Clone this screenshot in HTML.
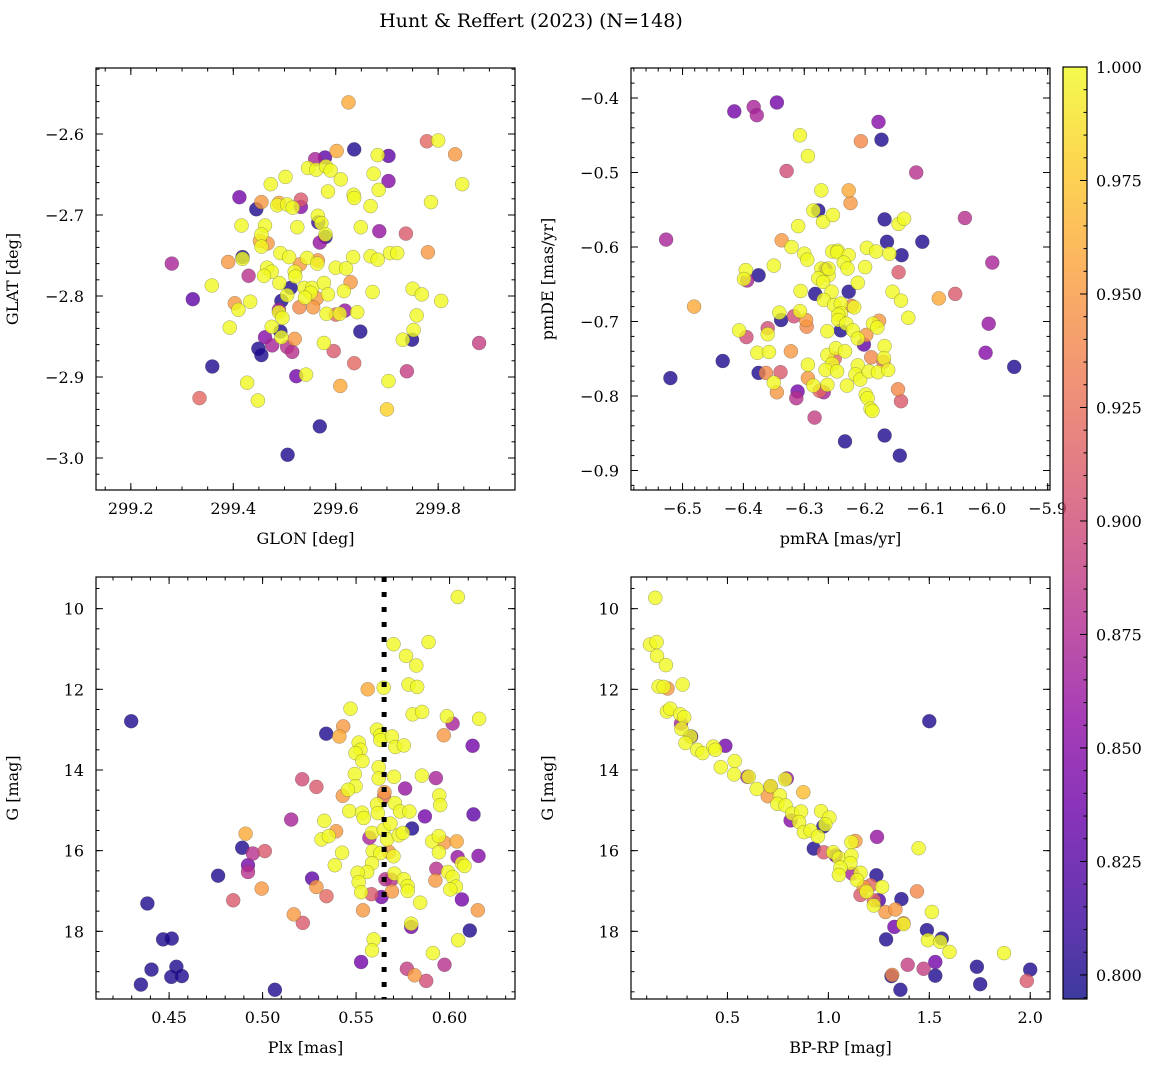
<!DOCTYPE html>
<html><head><meta charset="utf-8">
<style>
html,body{margin:0;padding:0;background:#fff;}
svg{display:block;font-family:"DejaVu Serif","Liberation Serif",serif;}
</style></head>
<body>
<svg id="fig" width="1161" height="1067" viewBox="0 0 1161 1067" xmlns="http://www.w3.org/2000/svg">
<text x="531" y="27" font-size="19" text-anchor="middle">Hunt &amp; Reffert (2023) (N=148)</text>
</svg>
<script>
// ---- data: [x, y, membership probability] ----
const skyPoints = [
[299.625,-2.561,0.96],[299.778,-2.609,0.92],[299.80,-2.608,1],[299.833,-2.625,0.95],[299.636,-2.619,0.80],[299.602,-2.621,0.96],[299.682,-2.626,1],[299.703,-2.627,0.83],[299.56,-2.631,0.87],[299.579,-2.629,0.83],
[299.546,-2.642,1],[299.562,-2.644,1],[299.581,-2.64,1],[299.59,-2.645,1],[299.502,-2.653,1],[299.473,-2.662,1],[299.61,-2.656,1],[299.674,-2.649,1],[299.703,-2.658,0.85],[299.684,-2.669,1],
[299.847,-2.662,1],[299.585,-2.671,1],[299.635,-2.675,1],[299.636,-2.679,1],[299.786,-2.684,1],[299.412,-2.678,0.84],[299.455,-2.684,0.95],[299.445,-2.693,0.80],[299.489,-2.685,0.96],[299.486,-2.688,1],
[299.505,-2.687,1],[299.532,-2.681,0.91],[299.532,-2.690,0.85],[299.516,-2.691,1],[299.668,-2.689,1],[299.416,-2.713,1],[299.462,-2.713,1],[299.525,-2.715,1],[299.565,-2.701,1],[299.566,-2.709,0.81],
[299.572,-2.710,1],[299.569,-2.734,0.86],[299.58,-2.727,0.80],[299.58,-2.724,1],[299.452,-2.732,0.96],[299.467,-2.735,0.95],[299.455,-2.724,1],[299.455,-2.739,1],[299.649,-2.715,1],[299.685,-2.72,0.86],
[299.737,-2.723,0.91],[299.78,-2.746,0.95],[299.492,-2.747,1],[299.509,-2.752,1],[299.544,-2.753,1],[299.565,-2.756,0.95],[299.564,-2.760,1],[299.634,-2.752,1],[299.668,-2.751,1],[299.682,-2.755,1],
[299.706,-2.747,1],[299.72,-2.747,1],[299.28,-2.76,0.87],[299.39,-2.758,0.95],[299.418,-2.752,0.80],[299.418,-2.754,1],[299.43,-2.775,0.88],[299.466,-2.765,1],[299.475,-2.770,1],[299.46,-2.775,1],
[299.53,-2.761,0.95],[299.52,-2.77,1],[299.521,-2.776,1],[299.60,-2.765,1],[299.62,-2.766,1],[299.629,-2.783,0.95],[299.49,-2.784,1],[299.512,-2.79,0.80],[299.505,-2.799,1],[299.539,-2.79,1],
[299.554,-2.79,1],[299.551,-2.796,1],[299.54,-2.802,1],[299.563,-2.803,0.95],[299.577,-2.784,1],[299.585,-2.798,1],[299.616,-2.794,1],[299.672,-2.795,1],[299.75,-2.791,1],[299.768,-2.798,1],
[299.806,-2.806,1],[299.358,-2.787,1],[299.321,-2.804,0.83],[299.403,-2.809,0.95],[299.41,-2.817,1],[299.433,-2.807,1],[299.494,-2.806,0.80],[299.489,-2.817,0.87],[299.489,-2.820,1],[299.496,-2.827,1],
[299.529,-2.814,0.94],[299.556,-2.814,0.95],[299.582,-2.822,1],[299.600,-2.823,0.92],[299.608,-2.822,1],[299.618,-2.818,0.86],[299.642,-2.82,1],[299.758,-2.824,1],[299.393,-2.839,1],[299.475,-2.838,1],
[299.492,-2.844,0.80],[299.494,-2.851,1],[299.462,-2.851,0.85],[299.476,-2.861,0.87],[299.505,-2.863,0.88],[299.515,-2.869,0.88],[299.52,-2.853,0.95],[299.449,-2.865,0.80],[299.455,-2.873,0.80],[299.577,-2.858,1],
[299.648,-2.844,0.80],[299.596,-2.868,0.91],[299.636,-2.883,0.92],[299.752,-2.842,1],[299.749,-2.854,0.80],[299.731,-2.854,1],[299.88,-2.858,0.89],[299.359,-2.887,0.80],[299.523,-2.899,0.84],[299.542,-2.897,1],
[299.739,-2.893,0.89],[299.703,-2.905,1],[299.609,-2.911,0.96],[299.427,-2.907,1],[299.334,-2.926,0.92],[299.448,-2.929,1],[299.70,-2.94,0.98],[299.569,-2.961,0.80],[299.506,-2.996,0.80]
];
const pmPoints = [
[-6.415,-0.418,0.84],[-6.383,-0.412,0.87],[-6.378,-0.423,0.87],[-6.345,-0.406,0.84],[-6.178,-0.432,0.85],[-6.173,-0.456,0.80],[-6.207,-0.458,0.94],[-6.307,-0.450,1],[-6.294,-0.478,1],[-6.329,-0.498,0.90],
[-6.116,-0.5,0.88],[-6.527,-0.59,0.87],[-6.272,-0.524,1],[-6.227,-0.524,0.96],[-6.224,-0.541,0.95],[-6.277,-0.551,0.80],[-6.285,-0.551,1],[-6.269,-0.566,1],[-6.253,-0.557,1],[-6.31,-0.572,1],
[-6.168,-0.563,0.80],[-6.145,-0.569,1],[-6.136,-0.562,1],[-6.164,-0.593,0.80],[-6.106,-0.593,0.80],[-6.036,-0.561,0.88],[-6.337,-0.591,0.95],[-6.321,-0.6,1],[-6.3,-0.609,1],[-6.295,-0.617,1],
[-6.254,-0.606,1],[-6.245,-0.605,1],[-6.246,-0.607,1],[-6.227,-0.611,1],[-6.235,-0.621,1],[-6.229,-0.629,1],[-6.197,-0.601,1],[-6.182,-0.606,1],[-6.16,-0.609,1],[-6.14,-0.611,0.80],
[-5.991,-0.621,0.87],[-6.35,-0.625,1],[-6.396,-0.631,1],[-6.394,-0.645,0.87],[-6.399,-0.643,1],[-6.375,-0.638,0.80],[-6.272,-0.629,1],[-6.265,-0.630,0.82],[-6.26,-0.638,1],[-6.26,-0.629,1],
[-6.277,-0.642,1],[-6.269,-0.647,1],[-6.2,-0.627,1],[-6.212,-0.648,1],[-6.145,-0.634,0.91],[-6.306,-0.659,1],[-6.282,-0.663,0.80],[-6.255,-0.660,1],[-6.227,-0.66,0.80],[-6.268,-0.671,1],
[-6.251,-0.678,1],[-6.24,-0.676,1],[-6.222,-0.679,0.94],[-6.218,-0.681,1],[-6.155,-0.66,1],[-6.141,-0.672,1],[-6.079,-0.669,0.96],[-6.052,-0.663,0.91],[-6.481,-0.68,0.96],[-6.129,-0.695,1],
[-6.341,-0.688,1],[-6.338,-0.698,0.80],[-6.317,-0.693,0.90],[-6.307,-0.686,1],[-6.297,-0.698,0.95],[-6.296,-0.707,0.94],[-6.240,-0.689,1],[-6.244,-0.691,1],[-6.244,-0.698,1],[-6.231,-0.703,1],
[-6.24,-0.712,0.80],[-6.262,-0.713,1],[-6.22,-0.712,1],[-6.212,-0.723,1],[-6.198,-0.718,0.95],[-6.202,-0.731,0.83],[-6.187,-0.703,1],[-6.177,-0.699,0.95],[-6.18,-0.708,1],[-6.168,-0.733,1],
[-5.997,-0.703,0.86],[-6.002,-0.742,0.85],[-5.955,-0.761,0.80],[-6.52,-0.776,0.80],[-6.434,-0.753,0.80],[-6.407,-0.712,1],[-6.395,-0.721,0.90],[-6.36,-0.709,0.90],[-6.36,-0.717,1],[-6.377,-0.742,1],
[-6.358,-0.741,1],[-6.322,-0.74,0.95],[-6.294,-0.758,1],[-6.262,-0.745,1],[-6.250,-0.750,0.92],[-6.254,-0.757,1],[-6.265,-0.765,1],[-6.246,-0.767,1],[-6.248,-0.736,1],[-6.233,-0.740,1],
[-6.212,-0.759,1],[-6.216,-0.771,1],[-6.208,-0.778,1],[-6.19,-0.748,0.94],[-6.170,-0.754,0.92],[-6.169,-0.749,1],[-6.194,-0.767,1],[-6.179,-0.768,1],[-6.162,-0.765,1],[-6.23,-0.786,1],
[-6.375,-0.769,0.80],[-6.363,-0.769,0.94],[-6.339,-0.768,0.91],[-6.35,-0.782,1],[-6.345,-0.795,0.95],[-6.294,-0.776,0.95],[-6.285,-0.786,1],[-6.275,-0.793,0.92],[-6.268,-0.795,0.87],[-6.262,-0.785,1],
[-6.311,-0.794,0.84],[-6.313,-0.803,0.88],[-6.199,-0.798,1],[-6.196,-0.803,1],[-6.191,-0.817,1],[-6.188,-0.820,1],[-6.146,-0.791,0.94],[-6.141,-0.807,0.91],[-6.283,-0.829,0.89],[-6.233,-0.861,0.80],
[-6.168,-0.853,0.80],[-6.143,-0.88,0.80]
];
const plxPoints = [
[0.6044,9.71,1],[0.570,10.88,1],[0.5888,10.83,1],[0.5767,11.17,1],[0.5822,11.41,1],[0.5562,12.0,0.96],[0.5648,11.96,1],[0.5781,11.88,1],[0.5827,11.94,1],[0.547,12.48,1],
[0.5803,12.62,1],[0.5853,12.56,1],[0.5986,12.67,1],[0.6016,12.85,0.87],[0.6158,12.73,1],[0.4297,12.79,0.80],[0.534,13.1,0.80],[0.5431,12.92,0.95],[0.5411,13.17,0.96],[0.5612,13.0,1],
[0.5630,13.14,1],[0.5630,13.26,1],[0.5692,13.17,1],[0.5710,13.43,1],[0.5755,13.39,1],[0.5969,13.14,0.95],[0.6123,13.4,0.84],[0.5514,13.32,1],[0.5523,13.5,1],[0.5497,13.58,1],
[0.5534,13.78,1],[0.5621,13.93,1],[0.5621,14.21,1],[0.5493,14.1,1],[0.5497,14.40,1],[0.5457,14.49,1],[0.5429,14.64,0.95],[0.5212,14.23,0.90],[0.5288,14.42,0.91],[0.5703,14.17,1],
[0.5852,14.14,1],[0.5927,14.2,0.87],[0.5762,14.46,0.86],[0.5945,14.63,1],[0.5950,14.87,1],[0.5652,14.55,0.95],[0.5650,14.67,0.92],[0.5707,14.82,1],[0.5612,14.85,1],[0.5616,15.07,1],
[0.5735,15.03,1],[0.5785,15.03,1],[0.5464,15.02,1],[0.5532,15.06,1],[0.5541,15.19,1],[0.5868,15.15,0.84],[0.6128,15.1,0.83],[0.5153,15.23,0.87],[0.533,15.26,1],[0.5315,15.72,1],
[0.5354,15.64,1],[0.5393,15.52,0.95],[0.5571,15.68,0.87],[0.5585,15.56,1],[0.5648,15.48,1],[0.5666,15.72,1],[0.5684,15.33,1],[0.5728,15.62,1],[0.5750,15.56,1],[0.5799,15.45,0.80],
[0.5907,15.77,1],[0.5943,15.64,1],[0.5972,15.8,0.95],[0.6038,15.77,0.96],[0.5943,16.04,1],[0.5589,16.01,1],[0.5630,16.06,1],[0.5675,16.03,0.95],[0.5700,16.14,1],[0.6043,16.16,0.86],[0.6066,16.31,1],
[0.6080,16.38,1],[0.6155,16.13,0.85],[0.5425,16.05,1],[0.5386,16.36,1],[0.5585,16.31,1],[0.5559,16.53,1],[0.5508,16.55,1],[0.5514,16.78,1],[0.5527,17.03,1],[0.5657,16.71,0.88],
[0.5689,16.72,0.88],[0.5705,16.57,1],[0.5756,16.71,1],[0.5776,16.88,1],[0.5776,17.0,1],[0.5929,16.45,0.88],[0.5991,16.53,1],[0.6016,16.65,1],[0.6034,16.89,1],[0.6004,16.96,1],
[0.5924,16.74,0.95],[0.5692,17.01,0.95],[0.5582,17.08,0.91],[0.5636,17.15,0.84],[0.5843,17.29,1],[0.6066,17.21,0.84],[0.6151,17.48,0.95],[0.5537,17.48,0.95],[0.5795,17.81,1],[0.5795,17.89,0.84],
[0.6108,17.98,0.80],[0.6046,18.22,1],[0.5594,18.2,1],[0.5585,18.47,1],[0.5911,18.54,1],[0.5527,18.76,0.84],[0.5772,18.93,0.89],[0.5973,18.83,0.88],[0.5813,19.09,0.95],[0.5875,19.23,0.90],
[0.4909,15.58,0.96],[0.4891,15.93,0.80],[0.4948,16.07,0.88],[0.5012,16.01,0.91],[0.4922,16.36,0.84],[0.4922,16.53,0.88],[0.4762,16.62,0.80],[0.4995,16.94,0.95],[0.4843,17.23,0.91],[0.5265,16.69,0.83],
[0.5288,16.9,0.95],[0.5342,17.13,0.92],[0.5167,17.58,0.95],[0.5215,17.79,0.91],[0.4384,17.31,0.80],[0.4468,18.2,0.80],[0.4514,18.18,0.80],[0.4406,18.95,0.80],[0.4539,18.88,0.80],[0.4512,19.13,0.80],
[0.4568,19.11,0.80],[0.4349,19.32,0.80],[0.5066,19.45,0.80]
];
const cmdPoints = [
[0.1425,9.73,1],[0.116,10.89,1],[0.149,10.83,1],[0.151,11.17,1],[0.195,11.4,1],[0.159,11.93,1],[0.203,11.98,0.95],[0.184,11.94,1],[0.278,11.88,1],[0.2,12.55,1],
[0.217,12.48,1],[0.266,12.62,1],[0.27,12.85,0.87],[0.286,12.69,1],[0.272,12.98,1],[0.32,13.17,0.82],[0.317,13.17,1],[0.292,13.33,1],[0.35,13.5,1],[0.377,13.58,1],
[0.43,13.42,1],[0.44,13.5,1],[0.49,13.4,0.84],[0.467,13.93,1],[0.536,13.78,1],[0.533,14.11,1],[0.599,14.17,0.87],[0.606,14.17,1],[0.645,14.47,1],[0.714,14.41,0.87],
[0.714,14.40,1],[0.700,14.65,0.95],[0.760,14.63,1],[0.747,14.84,1],[0.788,14.88,1],[0.794,14.21,0.86],[0.786,14.23,1],[0.876,14.55,0.97],[0.821,15.08,1],[0.865,15.03,1],
[0.813,15.25,0.85],[0.855,15.29,1],[0.964,15.02,1],[1.005,15.18,1],[0.975,15.40,0.80],[0.985,15.35,1],[0.879,15.54,1],[0.912,15.50,1],[0.948,15.65,1],[0.928,15.95,0.80],
[0.977,16.04,0.91],[1.024,16.04,1],[1.036,16.12,0.84],[1.052,16.18,1],[1.114,15.79,1],[1.134,15.76,0.95],[1.114,16.12,1],[1.109,16.31,1],[1.060,16.42,1],[1.052,16.60,1],
[1.118,16.57,0.87],[1.159,16.55,1],[1.241,15.66,0.86],[1.447,15.94,1],[1.238,16.61,0.80],[1.142,16.73,1],[1.175,16.90,0.95],[1.209,16.86,0.92],[1.266,16.90,1],[1.189,17.02,1],
[1.159,17.10,0.91],[1.225,17.23,0.92],[1.250,17.23,0.82],[1.225,17.36,1],[1.283,17.52,0.95],[1.332,17.46,0.95],[1.362,17.20,0.80],[1.439,17.01,0.94],[1.513,17.52,1],[1.372,17.80,0.92],
[1.372,17.82,1],[1.327,17.89,0.84],[1.488,17.97,0.80],[1.286,18.2,0.80],[1.493,18.22,1],[1.562,18.18,0.80],[1.554,18.26,1],[1.6,18.51,1],[1.87,18.54,1],[1.393,18.83,0.89],
[1.472,18.93,0.89],[1.53,18.76,0.84],[1.53,19.1,0.80],[1.736,18.88,0.80],[1.752,19.31,0.80],[2.0,18.95,0.80],[1.983,19.23,0.91],[1.313,19.11,0.80],[1.316,19.08,0.94],[1.357,19.45,0.80],
[1.5,12.79,0.80]
];
const skyXTicks = [299.2,299.4,299.6,299.8];
const skyYTicks = [-2.6,-2.7,-2.8,-2.9,-3.0];
const pmXTicks = [-6.5,-6.4,-6.3,-6.2,-6.1,-6.0,-5.9];
const pmYTicks = [-0.4,-0.5,-0.6,-0.7,-0.8,-0.9];
const plxXTicks = [0.45,0.50,0.55,0.60];
const gTicks = [10,12,14,16,18];
const cmdXTicks = [0.5,1.0,1.5,2.0];
const cbarTicks = [0.800,0.825,0.850,0.875,0.900,0.925,0.950,0.975,1.000];
const clusterPlx = 0.565;
const probMin = 0.7947, probMax = 1.0;

const NS = 'http://www.w3.org/2000/svg';
const svg = document.getElementById('fig');
function mk(tag, attrs, parent){
  const e = document.createElementNS(NS, tag);
  for (const k in attrs) e.setAttribute(k, attrs[k]);
  (parent||svg).appendChild(e);
  return e;
}
const plasma = ['#0d0887','#41049d','#6a00a8','#8f0da4','#b12a90','#cc4778','#e16462','#f2844b','#fca636','#fcce25','#f0f921'];
function hex(h){return [parseInt(h.substr(1,2),16),parseInt(h.substr(3,2),16),parseInt(h.substr(5,2),16)];}
function cmap(p){
  let t = (p-probMin)/(probMax-probMin); t=Math.max(0,Math.min(1,t));
  const f=t*10, i=Math.min(9,Math.floor(f)), r=f-i;
  const a=hex(plasma[i]), b=hex(plasma[i+1]);
  return 'rgb('+a.map((v,k)=>Math.round(v+(b[k]-v)*r)).join(',')+')';
}
function fmt(v, d){ const s=v.toFixed(d); return s.replace('-','\u2212'); }

function panel(cfg){
  const {name,L,R,T,B,xmin,xmax,ymin,ymax,yInv,xMajor,xMinorStep,yMajor,yMinorStep,xdec,ydec,xlabel,ylabel,pts} = cfg;
  const sx = v => L + (v-xmin)/(xmax-xmin)*(R-L);
  const sy = yInv ? (v => T + (v-ymin)/(ymax-ymin)*(B-T)) : (v => B - (v-ymin)/(ymax-ymin)*(B-T));
  const g = mk('g',{});
  
  
  mk('defs',{},g).innerHTML = '<clipPath id="clip-'+name+'"><rect x="'+L+'" y="'+T+'" width="'+(R-L)+'" height="'+(B-T)+'"/></clipPath>';
  const pg = mk('g',{'clip-path':'url(#clip-'+name+')'},g);
  
  
  const sorted = pts.slice().sort((a,b)=>a[2]-b[2]);
  sorted.forEach(d=>{
    const c = mk('circle',{cx:sx(d[0]).toFixed(1),cy:sy(d[1]).toFixed(1),r:7,fill:cmap(d[2]),'fill-opacity':0.8,stroke:'#444','stroke-opacity':0.5,'stroke-width':0.5},pg);
    
    
  });
  if (cfg.vline!==undefined){
    const ln = mk('line',{x1:sx(cfg.vline),x2:sx(cfg.vline),y1:T,y2:B,stroke:'#000','stroke-width':5,'stroke-dasharray':'5 10'},g);
    
    
  }
  const fr = mk('rect',{x:L,y:T,width:R-L,height:B-T,fill:'none',stroke:'#000','stroke-width':1.2},g);
  
  
  const tg = mk('g',{stroke:'#000','stroke-width':1},g);
  const lo = Math.min(xmin,xmax), hi=Math.max(xmin,xmax);
  for (let v=Math.ceil(lo/xMinorStep-1e-6)*xMinorStep; v<=hi+1e-9; v+=xMinorStep){
    const x=sx(v); mk('line',{x1:x,x2:x,y1:B,y2:B-3.5},tg); mk('line',{x1:x,x2:x,y1:T,y2:T+3.5},tg);
  }
  const ylo=Math.min(ymin,ymax), yhi=Math.max(ymin,ymax);
  for (let v=Math.ceil(ylo/yMinorStep-1e-6)*yMinorStep; v<=yhi+1e-9; v+=yMinorStep){
    const y=sy(v); mk('line',{x1:L,x2:L+3.5,y1:y,y2:y},tg); mk('line',{x1:R,x2:R-3.5,y1:y,y2:y},tg);
  }
  xMajor.forEach(v=>{
    const x=sx(v); mk('line',{x1:x,x2:x,y1:B,y2:B-7},tg); mk('line',{x1:x,x2:x,y1:T,y2:T+7},tg);
    const t=mk('text',{x:x,y:B+24,'font-size':16,'text-anchor':'middle'},g); t.textContent=fmt(v,xdec);
     
  });
  yMajor.forEach(v=>{
    const y=sy(v); mk('line',{x1:L,x2:L+7,y1:y,y2:y},tg); mk('line',{x1:R,x2:R-7,y1:y,y2:y},tg);
    const t=mk('text',{x:L-12,y:y+6,'font-size':16,'text-anchor':'end'},g); t.textContent=fmt(v,ydec);
     
  });
  const xl=mk('text',{x:(L+R)/2,y:B+54,'font-size':16,'text-anchor':'middle'},g); xl.textContent=xlabel;
   
  const yx=L-78, yy=(T+B)/2;
  const yl=mk('text',{x:yx,y:yy,'font-size':16,'text-anchor':'middle',transform:'rotate(-90 '+yx+' '+yy+')'},g); yl.textContent=ylabel;
   
}

panel({name:'sky',L:96,R:515,T:68,B:490,xmin:299.132,xmax:299.95,ymin:-3.0395,ymax:-2.5185,yInv:false,
  xMajor:skyXTicks,xMinorStep:0.05,yMajor:skyYTicks,yMinorStep:0.02,xdec:1,ydec:1,xlabel:'GLON [deg]',ylabel:'GLAT [deg]',pts:skyPoints});
panel({name:'proper-motion',L:631,R:1050,T:68,B:490,xmin:-6.5847,xmax:-5.8962,ymin:-0.9262,ymax:-0.3597,yInv:false,
  xMajor:pmXTicks,xMinorStep:0.02,yMajor:pmYTicks,yMinorStep:0.02,xdec:1,ydec:1,xlabel:'pmRA [mas/yr]',ylabel:'pmDE [mas/yr]',pts:pmPoints});
panel({name:'parallax',L:96,R:515,T:577,B:999,xmin:0.4109,xmax:0.635,ymin:9.215,ymax:19.678,yInv:true,
  xMajor:plxXTicks,xMinorStep:0.01,yMajor:gTicks,yMinorStep:0.5,xdec:2,ydec:0,xlabel:'Plx [mas]',ylabel:'G [mag]',pts:plxPoints,vline:clusterPlx});
panel({name:'cmd',L:631,R:1050,T:577,B:999,xmin:0.0222,xmax:2.098,ymin:9.215,ymax:19.678,yInv:true,
  xMajor:cmdXTicks,xMinorStep:0.1,yMajor:gTicks,yMinorStep:0.5,xdec:1,ydec:0,xlabel:'BP-RP [mag]',ylabel:'G [mag]',pts:cmdPoints});

(function(){
  const L=1063,R=1087,T=67,B=999;
  const cg = mk('g',{});
  
  
  let stops='';
  plasma.forEach((c,i)=>{stops+='<stop offset="'+(i/10)+'" stop-color="'+c+'"/>';});
  mk('defs',{},cg).innerHTML='<linearGradient id="cbg" x1="0" y1="1" x2="0" y2="0">'+stops+'</linearGradient>';
  mk('rect',{x:L,y:T,width:R-L,height:B-T,fill:'url(#cbg)','fill-opacity':0.8},cg);
  mk('rect',{x:L,y:T,width:R-L,height:B-T,fill:'none',stroke:'#000','stroke-width':1.2},cg);
  const sy = v => B-(v-probMin)/(probMax-probMin)*(B-T);
  for (let v=0.795; v<=1.0001; v+=0.005){ const y=sy(v); mk('line',{x1:R,x2:R-3.5,y1:y,y2:y,stroke:'#000'},cg); }
  cbarTicks.forEach(v=>{
    const y=sy(v); mk('line',{x1:R,x2:R-7,y1:y,y2:y,stroke:'#000'},cg);
    const t=mk('text',{x:R+9,y:y+6,'font-size':16},cg); t.textContent=v.toFixed(3);
     
  });
})();
</script>
</body></html>
